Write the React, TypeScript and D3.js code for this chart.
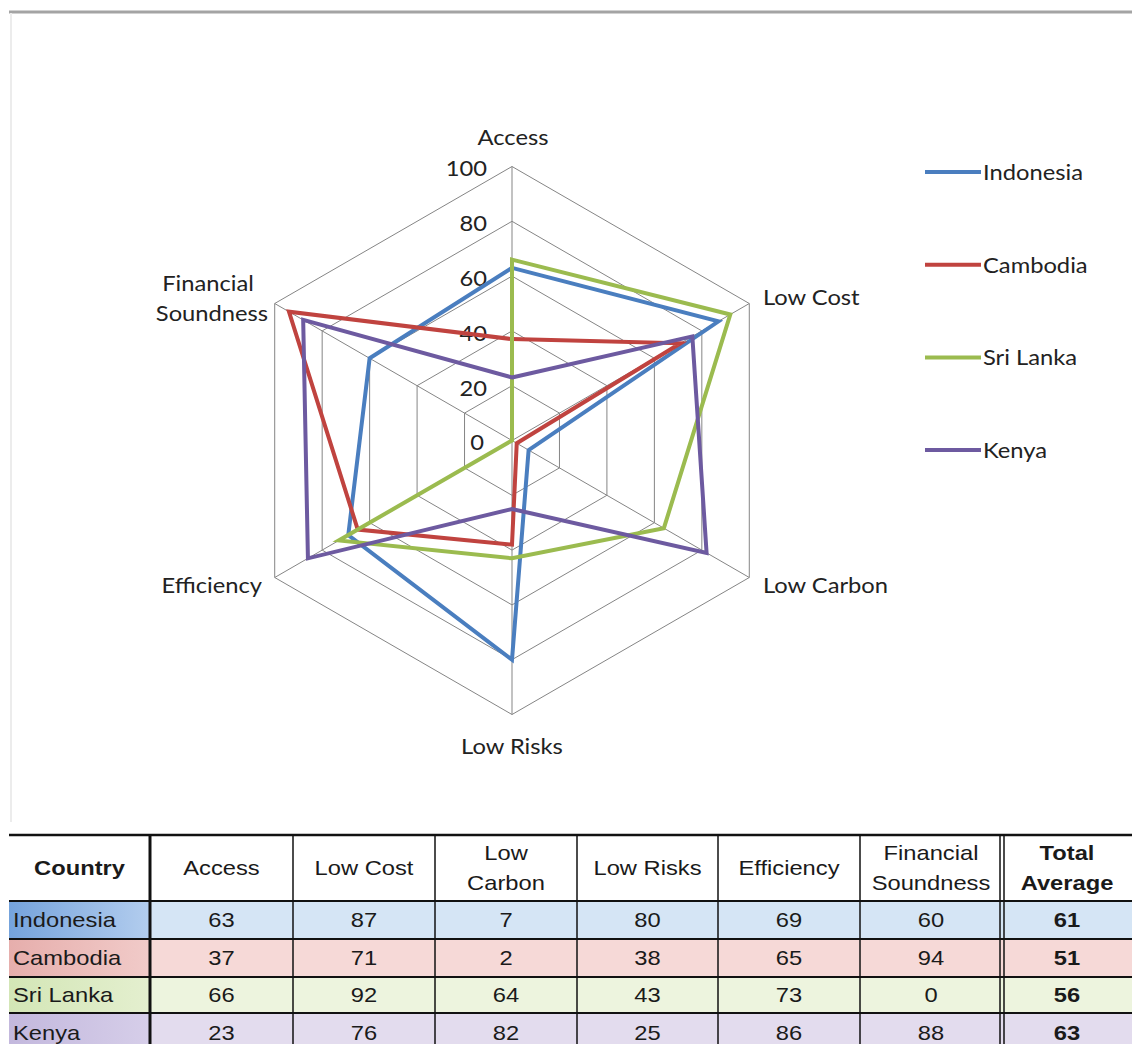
import React from "react";
import * as d3 from "d3";

// Radar axes, in drawing order (clockwise from the top)
const categories = ["Access", "Low Cost", "Low Carbon", "Low Risks", "Efficiency", "Financial Soundness"];
const countries = ["Indonesia", "Cambodia", "Sri Lanka", "Kenya"];

// Scores per axis, same order as categories
const indonesia = [63, 87, 7, 80, 69, 60];
const cambodia = [37, 71, 2, 38, 65, 94];
const sriLanka = [66, 92, 64, 43, 73, 0];
const kenya = [23, 76, 82, 25, 86, 88];
const totalAverage = [61, 51, 56, 63];

const radialTicks = [0, 20, 40, 60, 80, 100];

const seriesValues = [indonesia, cambodia, sriLanka, kenya];
const seriesColors = ["#4a7ebf", "#c0433f", "#9bbb4f", "#6d5aa0"];

// Table header text, one entry per column (lines within a cell)
const headerLines = [["Country"], ["Access"], ["Low Cost"], ["Low", "Carbon"], ["Low Risks"], ["Efficiency"], ["Financial", "Soundness"], ["Total", "Average"]];
const headerBold = [true, false, false, false, false, false, false, true];

const W = 1132;
const H = 1044;
const CX = 512;
const CY = 440.5;
const R = 274;

const chartFont = "Lato, 'Open Sans', sans-serif";
const tableFont = "'Liberation Sans', Arial, sans-serif";

// Text drawn with a slight horizontal stretch
function WideText({ x, y, children, anchor = "middle", size = 21, weight = "normal", sx = 1.13, font = tableFont, fill = "#1a1a1a" }: any) {
  return (
    <g transform={`translate(${x},${y}) scale(${sx},1)`}>
      <text x={0} y={0} textAnchor={anchor} dominantBaseline="central" fontFamily={font} fontSize={size} fontWeight={weight} fill={fill}>
        {children}
      </text>
    </g>
  );
}

function ChartText(props: any) {
  return <WideText font={chartFont} sx={1.13} fill="#222" {...props} />;
}

export default function App() {
  const r = d3.scaleLinear().domain([0, 100]).range([0, R]);
  const angle = d3.scalePoint<string>().domain(categories).range([0, (2 * Math.PI * 5) / 6]);

  const pt = (cat: string, v: number): [number, number] => {
    const a = angle(cat)!;
    return [CX + r(v) * Math.sin(a), CY - r(v) * Math.cos(a)];
  };

  const radial = d3
    .lineRadial<number>()
    .angle((_, i) => angle(categories[i])!)
    .radius((v) => r(v))
    .curve(d3.curveLinearClosed);

  const ringPath = (v: number) => radial(categories.map(() => v)) as string;

  // Table geometry
  const colX = [9, 150, 293, 435, 577, 718, 860, 1002, 1140];
  const rowY = [835, 901, 939, 977, 1013, 1052];
  const countryFillL = ["#75a3dc", "#e6aeac", "#d3e6b6", "#c3b8dd"];
  const countryFillR = ["#b3cdee", "#f1cbc9", "#e4efcf", "#d6cee9"];
  const cellFill = ["#d5e5f5", "#f6d9d7", "#edf4de", "#e3dcee"];

  return (
    <svg width={W} height={H} style={{ position: "absolute", left: 0, top: 0, background: "#ffffff" }} xmlns="http://www.w3.org/2000/svg">
      <defs>
        {countries.map((c, i) => (
          <linearGradient key={c} id={`cg${i}`} x1="0" x2="1" y1="0" y2="0">
            <stop offset="0" stopColor={countryFillL[i]} />
            <stop offset="1" stopColor={countryFillR[i]} />
          </linearGradient>
        ))}
      </defs>
      <rect x={0} y={0} width={W} height={H} fill="#ffffff" />

      {/* frame of the chart area */}
      <rect x={9} y={10.5} width={W - 9} height={3} fill="#a4a4a4" />
      <line x1={11} x2={11} y1={13} y2={822} stroke="#ececec" strokeWidth={2} />

      {/* radar grid */}
      <g transform={`translate(${CX},${CY})`}>
        {radialTicks.slice(1).map((t) => (
          <path key={t} d={ringPath(t)} fill="none" stroke="#858585" strokeWidth={1} />
        ))}
      </g>
      {categories.map((c) => {
        const [x, y] = pt(c, 100);
        return <line key={c} x1={CX} y1={CY} x2={x} y2={y} stroke="#858585" strokeWidth={1} />;
      })}

      {/* tick labels */}
      {radialTicks.map((t) => (
        <ChartText key={t} x={t === 0 ? 484 : 487} y={CY - r(t) + 2} anchor="end">
          {t}
        </ChartText>
      ))}

      {/* series */}
      <g transform={`translate(${CX},${CY})`}>
        {seriesValues.map((vals, i) => (
          <path key={countries[i]} d={radial(vals) as string} fill="none" stroke={seriesColors[i]} strokeWidth={4} strokeLinejoin="miter" />
        ))}
      </g>

      {/* axis labels */}
      <ChartText x={CX + 1} y={137}>Access</ChartText>
      <ChartText x={763} y={297} anchor="start">Low Cost</ChartText>
      <ChartText x={763} y={585} anchor="start">Low Carbon</ChartText>
      <ChartText x={CX} y={746}>Low Risks</ChartText>
      <ChartText x={262} y={585} anchor="end">Efficiency</ChartText>
      <ChartText x={208} y={283}>Financial</ChartText>
      <ChartText x={212} y={313}>Soundness</ChartText>

      {/* legend */}
      {countries.map((c, i) => {
        const y = 172 + i * 92.7;
        return (
          <g key={c}>
            <line x1={925} x2={981} y1={y} y2={y} stroke={seriesColors[i]} strokeWidth={4} />
            <ChartText x={983} y={y} anchor="start">{c}</ChartText>
          </g>
        );
      })}

      {/* table cells */}
      {countries.map((c, i) => (
        <g key={c}>
          <rect x={colX[0]} y={rowY[i + 1]} width={colX[1] - colX[0]} height={rowY[i + 2] - rowY[i + 1]} fill={`url(#cg${i})`} />
          <rect x={colX[1]} y={rowY[i + 1]} width={W - colX[1]} height={rowY[i + 2] - rowY[i + 1]} fill={cellFill[i]} />
        </g>
      ))}

      {/* table rules */}
      {rowY.slice(0, 5).map((y, i) => (
        <line key={y} x1={colX[0]} x2={W} y1={y} y2={y} stroke="#111" strokeWidth={i === 0 ? 2.5 : 2} />
      ))}
      {colX.slice(1, 7).map((x, i) => (
        <line key={x} x1={x} x2={x} y1={rowY[0]} y2={H} stroke="#111" strokeWidth={i === 0 ? 3 : 1.5} />
      ))}
      <line x1={colX[7] - 2} x2={colX[7] - 2} y1={rowY[0]} y2={H} stroke="#111" strokeWidth={1.5} />
      <line x1={colX[7] + 2} x2={colX[7] + 2} y1={rowY[0]} y2={H} stroke="#111" strokeWidth={1.5} />

      {/* header text */}
      {headerLines.map((lines, j) => {
        const cx = (colX[j] + Math.min(colX[j + 1], W)) / 2;
        const cy = (rowY[0] + rowY[1]) / 2;
        return lines.map((ln, k) => (
          <WideText key={`${j}-${k}`} x={cx} y={lines.length === 1 ? cy : cy - 15 + k * 30} weight={headerBold[j] ? "bold" : "normal"}>
            {ln}
          </WideText>
        ));
      })}

      {/* body text */}
      {countries.map((c, i) => {
        const cy = (rowY[i + 1] + rowY[i + 2]) / 2;
        const vals = seriesValues[i];
        return (
          <g key={c}>
            <WideText x={13} y={cy} anchor="start">{c}</WideText>
            {vals.map((v, j) => (
              <WideText key={j} x={(colX[j + 1] + colX[j + 2]) / 2} y={cy}>{v}</WideText>
            ))}
            <WideText x={(colX[7] + W) / 2} y={cy} weight="bold">{totalAverage[i]}</WideText>
          </g>
        );
      })}
    </svg>
  );
}
